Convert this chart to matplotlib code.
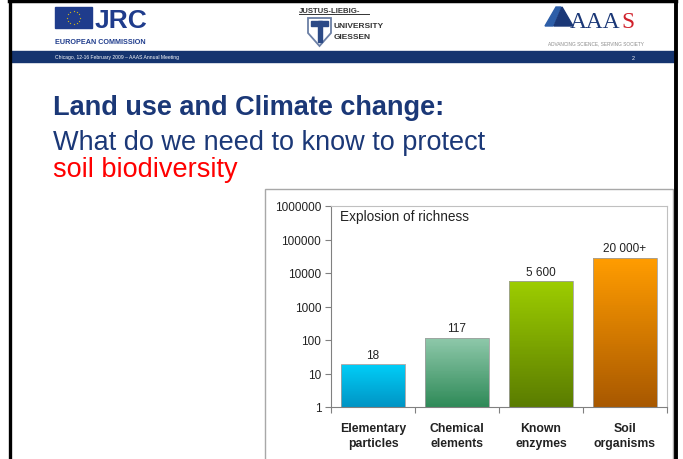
import numpy as np
import matplotlib.pyplot as plt
from matplotlib.patches import Rectangle, Polygon
from matplotlib.colors import LinearSegmentedColormap

plt.rcParams['font.family'] = ['Liberation Sans', 'DejaVu Sans']

# -----------------------------
# DATA
# -----------------------------
categories = ["Elementary\nparticles", "Chemical\nelements", "Known\nenzymes", "Soil\norganisms"]
values = [18, 117, 5600, 28000]
value_labels = ["18", "117", "5 600", "20 000+"]
y_ticks = [1, 10, 100, 1000, 10000, 100000, 1000000]
top_colors = ["#00ccf6", "#8ec8aa", "#9ccc00", "#ff9c00"]
bottom_colors = ["#0094c4", "#2f8a58", "#5a7c00", "#a85800"]

NAVY = "#1b3877"
W, H = 683, 460

fig = plt.figure(figsize=(W / 100, H / 100), dpi=100)

# -----------------------------
# SLIDE DECORATION (pixel coords)
# -----------------------------
bg = fig.add_axes([0, 0, 1, 1])
bg.set_xlim(0, W)
bg.set_ylim(H, 0)
bg.axis("off")

# slide border
bg.plot([9.5, 9.5], [0, H], color="black", lw=2.4)
bg.plot([676, 676], [0, H], color="black", lw=2.8)
bg.plot([9, 676], [1.5, 1.5], color="black", lw=2.5)

# footer band
bg.add_patch(Rectangle((10, 52), 666, 11, color="#15346f"))
bg.text(55, 58, "Chicago, 12-16 February 2009 \u2013 AAAS Annual Meeting",
        color="white", fontsize=3.6, va="center")
bg.text(632, 58, "2", color="white", fontsize=3.8, va="center")

# JRC logo
bg.add_patch(Rectangle((55, 8), 37, 21, color="#1f3c8c"))
ang = np.linspace(0, 2 * np.pi, 13)[:-1]
bg.scatter(73.5 + 6.5 * np.cos(ang), 18.5 + 6.5 * np.sin(ang), s=2,
           color="#f5d000", marker="*", lw=0)
bg.text(95, 28.5, "JRC", color="#1f3c8c", fontsize=19, fontweight="bold",
        va="baseline")
bg.text(55, 44.5, "EUROPEAN COMMISSION", color="#1f3c8c", fontsize=5.2,
        fontweight="bold", va="baseline")

# Giessen logo
bg.text(299, 13, "JUSTUS-LIEBIG-", color="#333333", fontsize=5.6,
        fontweight="bold", va="baseline")
bg.plot([299, 369], [15, 15], color="#333333", lw=0.7)
bg.add_patch(Polygon([[308, 19], [331, 19], [331, 34], [319.5, 47], [308, 34]],
                     closed=True, facecolor="white", edgecolor="#6b7fa5", lw=1.3))
bg.add_patch(Rectangle((311, 22), 17, 5, color="#2c4a86"))
bg.add_patch(Rectangle((317.5, 22), 4.5, 21, color="#2c4a86"))
bg.text(333.5, 28, "UNIVERSITY", color="#333333", fontsize=6.0,
        fontweight="bold", va="baseline")
bg.text(333.5, 39, "GIESSEN", color="#333333", fontsize=6.0,
        fontweight="bold", va="baseline")

# AAAS logo
bg.add_patch(Polygon([[545, 27], [556, 8], [561, 8], [553, 27]], color="#2d5ea8"))
bg.add_patch(Polygon([[554, 27], [562, 8], [573, 27]], color="#1b3877"))
bg.text(570, 27.5, "AAA", color="#1b3877", fontsize=16.8,
        family="Liberation Serif", va="baseline")
bg.text(621.5, 27.5, "S", color="#d0202a", fontsize=16.8,
        family="Liberation Serif", va="baseline")
bg.text(548, 45, "ADVANCING SCIENCE, SERVING SOCIETY", color="#8a8a8a",
        fontsize=3.4, va="baseline")

# slide title
bg.text(53, 115, "Land use and Climate change:", color=NAVY, fontsize=19.5,
        fontweight="bold", va="baseline")
bg.text(53, 150, "What do we need to know to protect", color=NAVY,
        fontsize=19.5, va="baseline")
bg.text(53, 177, "soil biodiversity", color="#ff0000", fontsize=19.5,
        va="baseline")

# chart frame
bg.add_patch(Rectangle((265, 189.5), 408, 280, facecolor="white",
                       edgecolor="#a8a8a8", lw=1.0))

# -----------------------------
# BAR CHART
# -----------------------------
ax = fig.add_axes([331 / W, 1 - 408 / H, 336 / W, 201 / H])
ax.set_yscale("log")

x = np.arange(len(categories))
half = 0.38
bars = ax.bar(x, values, width=2 * half, bottom=1, color="none",
              edgecolor="#a0a0a0", lw=0.6, zorder=3)

for i, bar in enumerate(bars):
    cmap = LinearSegmentedColormap.from_list(
        f"g{i}", [bottom_colors[i], top_colors[i]])
    yedges = np.logspace(0, np.log10(values[i]), 81)
    shade = np.linspace(0, 1, 80)[:, None]
    ax.pcolormesh([x[i] - half, x[i] + half], yedges, shade, cmap=cmap,
                  shading="flat", zorder=2)
    ax.text(x[i], values[i] * 1.3, value_labels[i], ha="center", va="bottom",
            fontsize=8.5, color="#222222")

ax.set_xlim(-0.5, len(categories) - 0.5)
ax.set_ylim(1, 1e6)

ax.set_yticks(y_ticks)
ax.set_yticklabels([str(v) for v in y_ticks])
ax.yaxis.set_minor_locator(plt.NullLocator())
ax.tick_params(axis="y", labelsize=8.5, length=4, color="#808080",
               labelcolor="#222222", pad=3)

ax.set_xticks(np.arange(len(categories) + 1) - 0.5)
ax.set_xticklabels([])
ax.set_xticks(x, minor=True)
ax.set_xticklabels(categories, minor=True, fontweight="bold", fontsize=8.8,
                   color="#222222", linespacing=1.35)
ax.tick_params(axis="x", which="major", length=4, color="#808080")
ax.tick_params(axis="x", which="minor", length=0, pad=11)

for side in ["left", "bottom"]:
    ax.spines[side].set_color("#808080")
for side in ["top", "right"]:
    ax.spines[side].set_color("#c0c0c0")

ax.text(0.027, 0.95, "Explosion of richness", transform=ax.transAxes,
        fontsize=9.8, va="center", color="#222222")

fig.savefig("out.png", dpi=100)
